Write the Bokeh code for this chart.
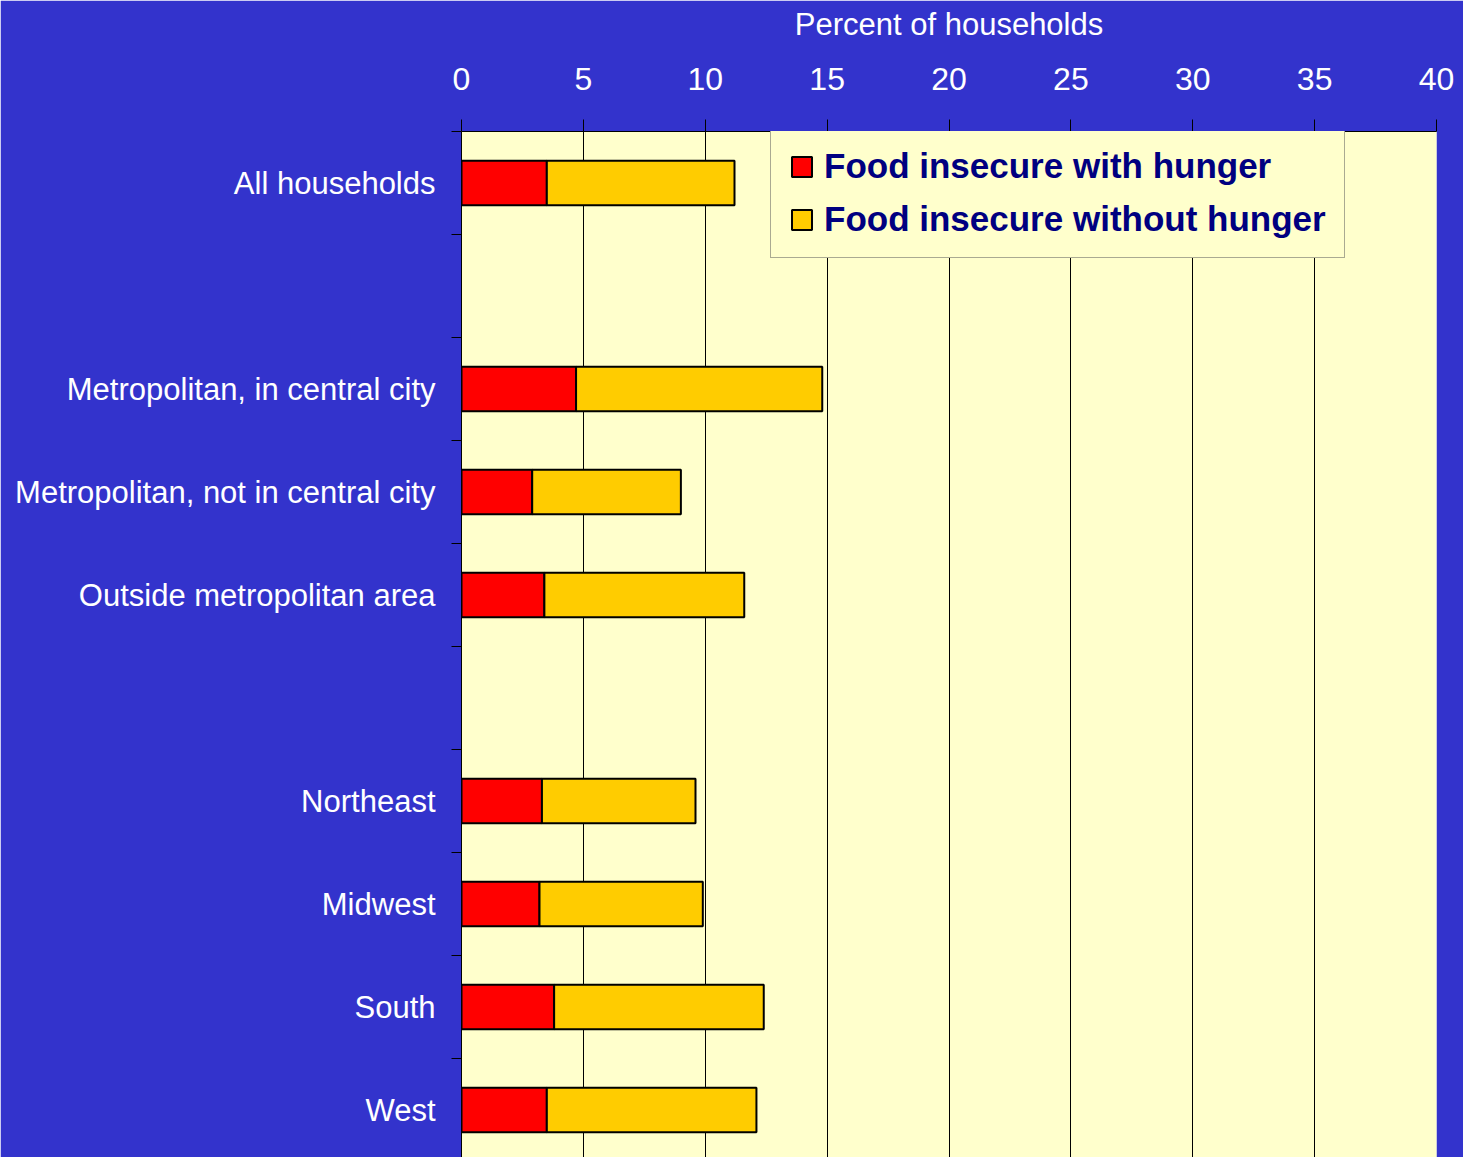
from bokeh.plotting import figure
from bokeh.models import ColumnDataSource, Range1d, FixedTicker
from bokeh.embed import file_html
from bokeh.resources import INLINE

# ---- data (rows include two blank spacer rows, as in the original chart) ----
rows = ["All households", "",
        "Metropolitan, in central city", "Metropolitan, not in central city",
        "Outside metropolitan area", "",
        "Northeast", "Midwest", "South", "West"]
with_hunger = [3.5, None, 4.7, 2.9, 3.4, None, 3.3, 3.2, 3.8, 3.5]
without_hunger = [7.7, None, 10.1, 6.1, 8.2, None, 6.3, 6.7, 8.6, 8.6]
series_names = ["Food insecure with hunger", "Food insecure without hunger"]
x_ticks = [0, 5, 10, 15, 20, 25, 30, 35, 40]
x_title = "Percent of households"

# ---- styling ----
BLUE = "#3333CC"
PLOT_BG = "#FFFFCC"
RED = "#FF0000"
GOLD = "#FFCC00"
FONT = "Liberation Sans"

idx = [i for i, r in enumerate(rows) if r]
src = ColumnDataSource(dict(
    y=idx,
    hunger=[with_hunger[i] for i in idx],
    nohunger=[without_hunger[i] for i in idx],
))

W, H = 1463, 1157
top_border = 131
slot_px = 103.0
frame_h = H - top_border
p = figure(width=W, height=H, output_backend="svg", toolbar_location=None,
           x_range=Range1d(0, 40),
           y_range=Range1d(-0.5 + frame_h / slot_px, -0.5),
           x_axis_location="above",
           min_border_left=461, min_border_right=27, min_border_top=top_border,
           min_border_bottom=0,
           background_fill_color=PLOT_BG, border_fill_color=BLUE,
           outline_line_color=None)

p.hbar_stack(["hunger", "nohunger"], y="y", height=0.43, source=src,
             color=[RED, GOLD], line_color="black", line_width=2,
             legend_label=series_names)

# x axis (top)
xa = p.xaxis[0]
xa.ticker = FixedTicker(ticks=x_ticks)
xa.axis_label = x_title
xa.axis_label_text_font = FONT
xa.axis_label_text_font_size = "31px"
xa.axis_label_text_font_style = "normal"
xa.axis_label_text_color = "white"
xa.axis_label_standoff = 23
xa.major_label_text_font = FONT
xa.major_label_text_font_size = "32px"
xa.major_label_text_color = "white"
xa.major_label_standoff = 30
xa.major_tick_out = 12
xa.major_tick_in = 0
xa.minor_tick_out = 0
xa.minor_tick_in = 0
xa.major_tick_line_color = "black"
xa.axis_line_color = "black"

# y axis (left) with category labels and boundary ticks
ya = p.yaxis[0]
ya.ticker = FixedTicker(ticks=idx, minor_ticks=[i - 0.5 for i in range(len(rows) + 1)])
ya.major_label_overrides = {i: rows[i] for i in idx}
ya.major_label_text_font = FONT
ya.major_label_text_font_size = "31px"
ya.major_label_text_color = "white"
ya.major_tick_out = 0
ya.major_tick_in = 0
ya.minor_tick_out = 10
ya.minor_tick_in = 0
ya.minor_tick_line_color = "black"
ya.major_label_standoff = 16
ya.axis_line_color = "black"

p.xgrid.ticker = FixedTicker(ticks=x_ticks)
p.xgrid.grid_line_color = "black"
p.xgrid.grid_line_width = 1
p.ygrid.grid_line_color = None

lg = p.legend[0]
lg.location = (309, 899)
lg.background_fill_color = PLOT_BG
lg.background_fill_alpha = 1
lg.border_line_color = "#555555"
lg.border_line_width = 1.5
lg.label_text_font = FONT
lg.label_text_font_size = "35px"
lg.label_text_font_style = "bold"
lg.label_text_color = "#000080"
lg.glyph_width = 25
lg.glyph_height = 25
lg.label_standoff = 10
lg.padding = 18
lg.spacing = 13
lg.margin = 0

open("out.html", "w").write(file_html(p, INLINE))
